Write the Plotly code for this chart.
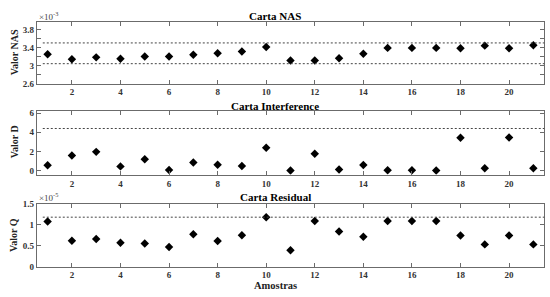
import plotly.graph_objects as go

samples = list(range(1, 22))
nas_values = [3.25, 3.14, 3.18, 3.15, 3.20, 3.20, 3.24, 3.27, 3.31, 3.41,
              3.11, 3.11, 3.16, 3.26, 3.39, 3.39, 3.39, 3.38, 3.44, 3.38, 3.45]
nas_limits = [3.50, 3.04]
d_values = [0.54, 1.58, 1.95, 0.43, 1.17, 0.06, 0.84, 0.60, 0.47, 2.39,
            0.00, 1.75, 0.10, 0.57, 0.03, 0.03, 0.00, 3.43, 0.23, 3.45, 0.23]
d_limit = [4.4]
q_values = [1.076, 0.615, 0.66, 0.57, 0.55, 0.47, 0.77, 0.61, 0.75, 1.18,
            0.39, 1.09, 0.84, 0.71, 1.09, 1.09, 1.09, 0.74, 0.53, 0.74, 0.53]
q_limit = [1.18]

titles = ["Carta NAS", "Carta Interference", "Carta Residual"]
ylabels = ["Valor NAS", "Valor D", "Valor Q"]
xlabel = "Amostras"
x_ticks = [2, 4, 6, 8, 10, 12, 14, 16, 18, 20]
nas_ticks = [2.6, 2.8, 3.0, 3.2, 3.4, 3.6, 3.8]
nas_ticktext = ["2.6", "", "3", "", "3.4", "", "3.8"]
d_ticks = [0, 2, 4, 6]
q_ticks = [0, 0.5, 1, 1.5]
q_ticktext = ["0", "0.5", "1", "1.5"]

FONT = "Liberation Serif"
AX = "#6b6b6b"

fig = go.Figure()

panels = [
    (nas_values, nas_limits, "x", "y"),
    (d_values, d_limit, "x2", "y2"),
    (q_values, q_limit, "x3", "y3"),
]
for vals, lims, xa, ya in panels:
    fig.add_trace(go.Scatter(
        x=samples, y=vals, mode="markers", xaxis=xa, yaxis=ya,
        marker=dict(symbol="diamond", size=6.5, color="black"),
        showlegend=False, hoverinfo="skip"))
    for lv in lims:
        fig.add_shape(type="line", xref=xa + " domain", yref=ya,
                      x0=0.012, x1=1, y0=lv, y1=lv,
                      line=dict(color="#444444", width=1, dash="2px,2px"))

domains = [(0.7263, 0.9418), (0.4084, 0.6296), (0.0886, 0.3074)]
yranges = [[2.6, 3.97], [-0.45, 6.2], [0, 1.5]]
ytickcfg = [
    dict(tickvals=nas_ticks, ticktext=nas_ticktext),
    dict(tickvals=d_ticks, ticktext=[str(v) for v in d_ticks]),
    dict(tickvals=q_ticks, ticktext=q_ticktext),
]

layout = dict(
    width=550, height=297,
    margin=dict(l=0, r=0, t=0, b=0),
    paper_bgcolor="white", plot_bgcolor="white",
    showlegend=False,
)
for i in range(3):
    sx = "" if i == 0 else str(i + 1)
    layout["xaxis" + sx] = dict(
        domain=[0.0667, 0.9896], range=[0.55, 21.45],
        anchor="y" + sx, tickvals=x_ticks,
        ticks="inside", ticklen=4, tickcolor=AX, showline=True, linecolor=AX,
        linewidth=1, mirror="ticks", showgrid=False, zeroline=False,
        tickfont=dict(family=FONT, size=9, color="#333333", weight="bold"),
    )
    layout["yaxis" + sx] = dict(
        domain=list(domains[i]), range=yranges[i], anchor="x" + sx,
        ticks="inside", ticklen=4, tickcolor=AX, showline=True, linecolor=AX,
        linewidth=1, mirror="ticks", showgrid=False, zeroline=False,
        tickfont=dict(family=FONT, size=9, color="#333333", weight="bold"),
        **ytickcfg[i],
    )
fig.update_layout(**layout)

title_y = [11, 105, 199]
ylab_y = [49, 142, 238]
for i in range(3):
    fig.add_annotation(text="<b>%s</b>" % titles[i], xref="paper", yref="paper",
                       x=0.5, y=1 - title_y[i] / 297, showarrow=False,
                       font=dict(family=FONT, size=11, color="black"),
                       xanchor="center", yanchor="middle")
    fig.add_annotation(text="<b>%s</b>" % ylabels[i], xref="paper", yref="paper",
                       x=14 / 550, y=1 - ylab_y[i] / 297, showarrow=False,
                       textangle=-90,
                       font=dict(family=FONT, size=10, color="#222222"),
                       xanchor="center", yanchor="middle")

fig.add_annotation(text="<b>%s</b>" % xlabel, xref="paper", yref="paper",
                   x=0.5, y=1 - 290 / 297, showarrow=False,
                   font=dict(family=FONT, size=10.5, color="#222222"),
                   xanchor="center", yanchor="middle")

for txt, ypix in [("×10<sup>-3</sup>", 11), ("×10<sup>-5</sup>", 199)]:
    fig.add_annotation(text=txt, xref="paper", yref="paper",
                       x=37 / 550, y=1 - ypix / 297, showarrow=False,
                       font=dict(family=FONT, size=9, color="#444444"),
                       xanchor="left", yanchor="middle")

fig.write_html("out.html",
               config={"displayModeBar": False},
               post_script="document.body.style.margin='0px';"
                           "document.body.style.overflow='hidden';")
